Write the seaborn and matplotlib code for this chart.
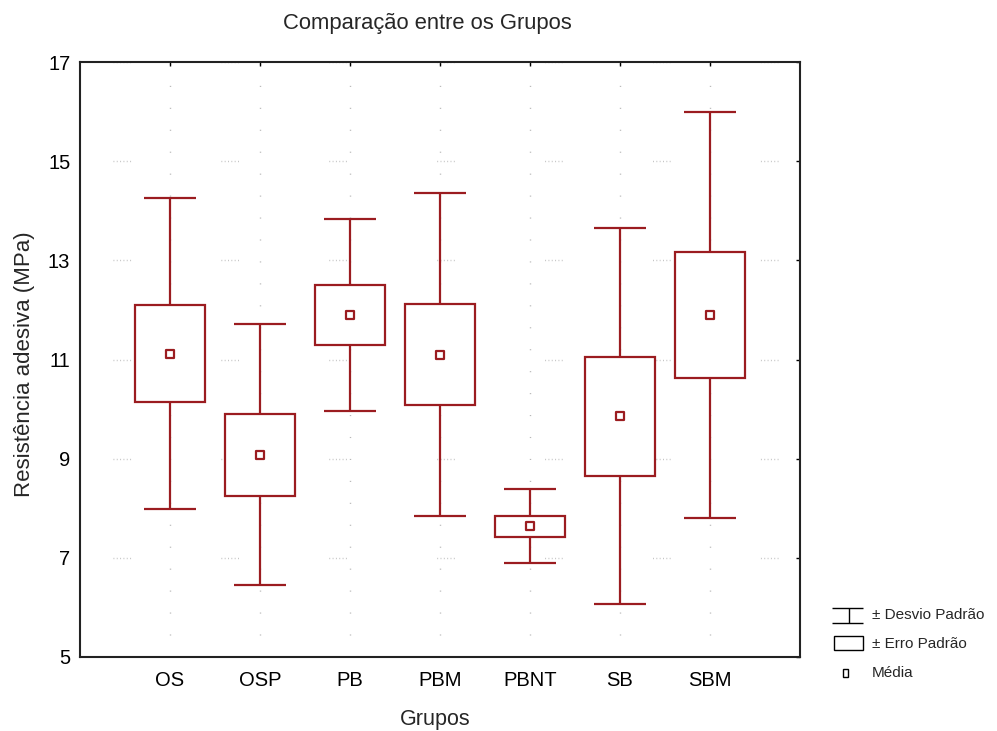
import numpy as np
import pandas as pd
import matplotlib
matplotlib.use("Agg")
import matplotlib.pyplot as plt
from matplotlib.patches import Rectangle
import seaborn as sns

# dados (media, erro padrao, desvio padrao)
grupos = ['OS', 'OSP', 'PB', 'PBM', 'PBNT', 'SB', 'SBM']
media = [11.12, 9.08, 11.90, 11.10, 7.64, 9.86, 11.90]
erro_padrao = [0.97, 0.83, 0.60, 1.01, 0.21, 1.20, 1.27]
desvio_padrao = [3.13, 2.63, 1.94, 3.25, 0.74, 3.80, 4.10]
y_ticks = [5, 7, 9, 11, 13, 15, 17]

vermelho = '#9b1c20'

sns.set_style('white')
plt.rcParams['font.family'] = ['Liberation Sans', 'DejaVu Sans']

df = pd.DataFrame({'grupo': grupos, 'media': media, 'ep': erro_padrao, 'dp': desvio_padrao})

fig = plt.figure(figsize=(9.97, 7.31), dpi=100)
ax = fig.add_axes([80 / 997, 74 / 731, 720 / 997, 595 / 731])

# +- desvio padrao (bigodes)
ax.errorbar(df['grupo'], df['media'], yerr=df['dp'], fmt='none', ecolor=vermelho,
            elinewidth=1.6, capsize=19, capthick=1.6, zorder=2)
# +- erro padrao (caixas)
ax.bar(df['grupo'], 2 * df['ep'], bottom=df['media'] - df['ep'], width=0.78,
       color='white', edgecolor=vermelho, linewidth=1.6, zorder=3)
# media
sns.scatterplot(data=df, x='grupo', y='media', marker='s', s=36, color='white',
                edgecolor=vermelho, linewidth=1.6, zorder=4, ax=ax)

ax.set_xlim(-1, len(grupos))
ax.set_ylim(5, 17)
ax.set_yticks(y_ticks)

# grade pontilhada estilo Statistica
ax.xaxis.grid(True, color='#b8b8b8', linewidth=1, linestyle=(0, (0.8, 15)))
ax.yaxis.grid(True, color='#c4c4c4', linewidth=1,
              linestyle=(54, (0.7, 1.7, 0.7, 1.7, 0.7, 1.7, 0.7, 1.7, 0.7, 1.7, 0.7, 65)))
ax.set_axisbelow(True)

for s in ax.spines.values():
    s.set_visible(True)
    s.set_color('#222222')
    s.set_linewidth(1.5)

ax.tick_params(direction='in', length=3, width=1, top=True, right=True,
               labelsize=14.5, colors='black')
ax.tick_params(axis='x', pad=10)
ax.tick_params(axis='y', pad=7)

ax.set_xlabel('Grupos', fontsize=15.5, labelpad=14)
ax.xaxis.set_label_coords(0.493, -0.088)
ax.set_ylabel('Resistência adesiva (MPa)', fontsize=16)
ax.yaxis.set_label_coords(-0.062, 0.492)
fig.text(427 / 997, 1 - 24 / 731, 'Comparação entre os Grupos', ha='center', va='center',
         fontsize=15.8)

# legenda
lg = fig.add_axes([820 / 997, 1 - 695 / 731, 177 / 997, 100 / 731])
lg.set_xlim(0, 177)
lg.set_ylim(100, 0)
lg.axis('off')
lg.hlines([13, 28], 12, 43, color='black', linewidth=1)
lg.vlines(29, 13, 28, color='black', linewidth=1)
lg.add_patch(Rectangle((14, 41), 29, 14, fill=False, edgecolor='black', linewidth=1))
lg.add_patch(Rectangle((23, 74), 5, 8, fill=False, edgecolor='black', linewidth=1))
lg.text(52, 20, '± Desvio Padrão', va='center', fontsize=11)
lg.text(52, 49, '± Erro Padrão', va='center', fontsize=11)
lg.text(52, 78, 'Média', va='center', fontsize=11)

fig.savefig('out.png', dpi=100)
